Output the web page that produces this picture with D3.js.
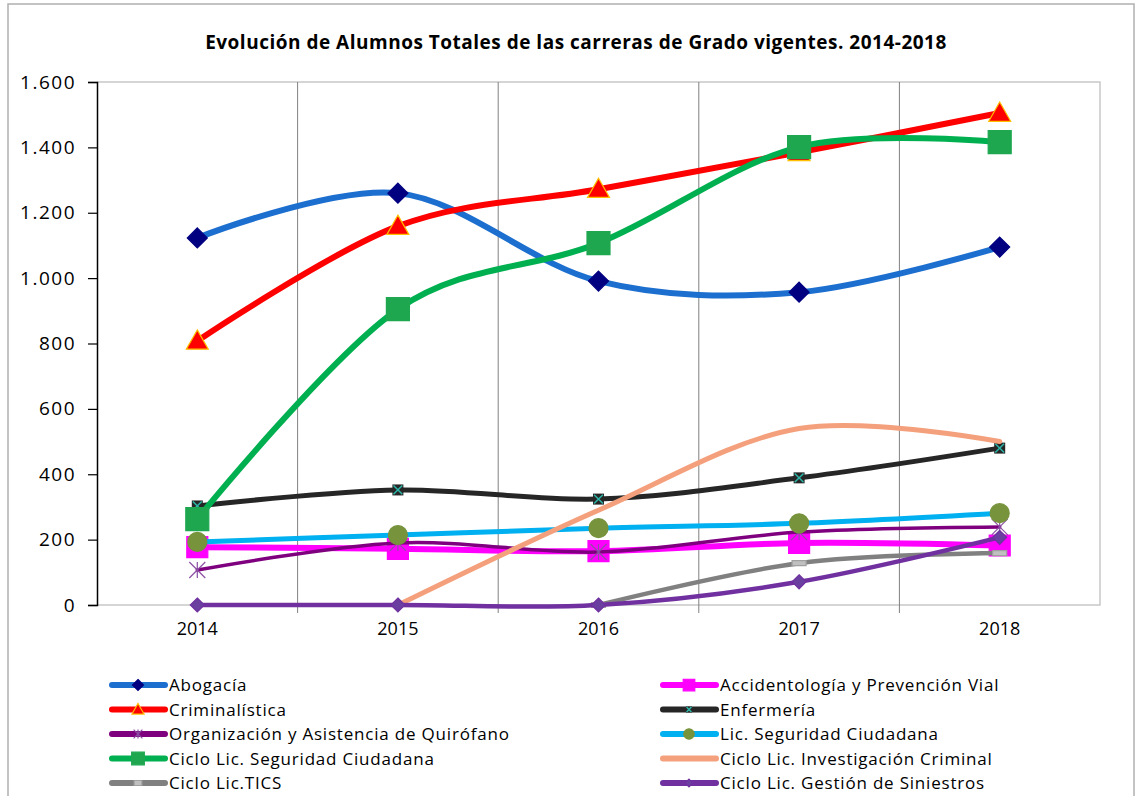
<!DOCTYPE html>
<html>
<head>
<meta charset="utf-8">
<script src="https://cdn.jsdelivr.net/npm/d3@7"></script>
<style>
  body { margin: 0; background: #fff; }
  text { font-family: "Open Sans", sans-serif; fill: #000; }
</style>
</head>
<body>
<script>
// data
var years = ["2014", "2015", "2016", "2017", "2018"];
var yTicks = [0, 200, 400, 600, 800, 1000, 1200, 1400, 1600];

var abogacia           = [1123, 1260, 991, 957, 1095];
var accidentologia     = [177, 172, 165, 190, 182];
var criminalistica     = [808, 1159, 1272, 1385, 1505];
var enfermeria         = [303, 352, 324, 389, 480];
var quirofano          = [107, 190, 162, 223, 239];
var licSeguridad       = [193, 214, 235, 250, 281];
var cicloSeguridad     = [263, 905, 1107, 1401, 1416];
var cicloInvestigacion = [null, 0, 290, 540, 500];
var cicloTics          = [null, null, 0, 128, 159];
var cicloGestion       = [0, 0, 0, 71, 207];

var names = ["Abogacía", "Accidentología y Prevención Vial", "Criminalística", "Enfermería",
  "Organización y Asistencia de Quirófano", "Lic. Seguridad Ciudadana", "Ciclo Lic. Seguridad Ciudadana",
  "Ciclo Lic. Investigación Criminal", "Ciclo Lic.TICS", "Ciclo Lic. Gestión de Siniestros"];
var values = [abogacia, accidentologia, criminalistica, enfermeria, quirofano,
  licSeguridad, cicloSeguridad, cicloInvestigacion, cicloTics, cicloGestion];

// look of each series (same order as names)
var styles = [
  {color: "#1c6fcf", width: 6, shape: "diamond", size: 20, fill: "#000080", stroke: "#000080"},
  {color: "#ff00ff", width: 6, shape: "square", size: 21, fill: "#ff00ff", stroke: "#ff00ff"},
  {color: "#ff0000", width: 6, shape: "triangle", size: 22, fill: "#ff0000", stroke: "#ffc000"},
  {color: "#262626", width: 5, shape: "xbox", size: 11, fill: "#262626", stroke: "#2cb5a8"},
  {color: "#7f007f", width: 3.5, shape: "asterisk", size: 16, fill: "none", stroke: "#8b4fa3"},
  {color: "#00b0f0", width: 5, shape: "circle", size: 19, fill: "#77933c", stroke: "#77933c"},
  {color: "#00b050", width: 6, shape: "square", size: 23, fill: "#1fa750", stroke: "#1fa750"},
  {color: "#f5a07c", width: 5, shape: null},
  {color: "#808080", width: 4.5, shape: "bar", size: 14, fill: "#c0c0c0", stroke: "#a0a0a0"},
  {color: "#7030a0", width: 4.5, shape: "diamond", size: 14, fill: "#6b3fa0", stroke: "#7030a0"}
];

var W = 1140, H = 796;
var plot = {left: 97, right: 1100, top: 82, bottom: 605};

var svg = d3.select("body").append("svg")
  .attr("width", W).attr("height", H);

// outer frame
svg.append("rect")
  .attr("x", 8).attr("y", 4).attr("width", 1126).attr("height", 800)
  .attr("fill", "none").attr("stroke", "#b0b0b0").attr("stroke-width", 1.5);

svg.append("text")
  .attr("x", 576).attr("y", 49)
  .attr("text-anchor", "middle")
  .attr("letter-spacing", "0.5px")
  .style("font-size", "19px").style("font-weight", "bold")
  .text("Evolución de Alumnos Totales de las carreras de Grado vigentes. 2014-2018");

var x = d3.scaleBand().domain(years).range([plot.left, plot.right]);
var y = d3.scaleLinear().domain([0, 1600]).range([plot.bottom, plot.top]);
var cx = function(d) { return x(d) + x.bandwidth() / 2; };

var es = d3.formatLocale({decimal: ",", thousands: ".", grouping: [3], currency: ["", "€"]});

// plot frame (top / right / bottom in light grey)
svg.append("path")
  .attr("d", "M" + plot.left + "," + plot.top + "H" + plot.right + "V" + plot.bottom + "H" + plot.left)
  .attr("fill", "none").attr("stroke", "#c8c8c8").attr("stroke-width", 1.5);

// vertical gridlines between categories
svg.append("g").selectAll("line")
  .data(years.slice(1))
  .enter().append("line")
    .attr("x1", function(d) { return x(d); })
    .attr("x2", function(d) { return x(d); })
    .attr("y1", plot.top).attr("y2", plot.bottom + 8)
    .attr("stroke", "#808080").attr("stroke-width", 1);

// y axis
var yAxis = svg.append("g")
  .attr("transform", "translate(" + plot.left + ",0)")
  .call(d3.axisLeft(y).tickValues(yTicks).tickSize(9).tickPadding(12)
    .tickFormat(es.format(",d")));
yAxis.select(".domain").attr("stroke", "#000").attr("stroke-width", 1.5);
yAxis.selectAll(".tick line").attr("stroke", "#000").attr("stroke-width", 1.2);
yAxis.selectAll("text")
  .style("font-size", "19px").style("font-family", "'Open Sans', sans-serif")
  .attr("letter-spacing", "1.5px").attr("fill", "#000");

// x labels
var xAxis = svg.append("g")
  .attr("transform", "translate(0," + plot.bottom + ")")
  .call(d3.axisBottom(x).tickSize(0).tickPadding(17));
xAxis.select(".domain").remove();
xAxis.selectAll("text")
  .style("font-size", "18px").style("font-family", "'Open Sans', sans-serif")
  .attr("fill", "#000");

function markerPath(shape, s) {
  var h = s / 2;
  switch (shape) {
    case "diamond": return "M0," + (-h) + "L" + h + ",0L0," + h + "L" + (-h) + ",0Z";
    case "square": return "M" + (-h) + "," + (-h) + "h" + s + "v" + s + "h" + (-s) + "Z";
    case "triangle": return "M0," + (-h) + "L" + h + "," + (h * 0.75) + "L" + (-h) + "," + (h * 0.75) + "Z";
    case "circle": return "M" + h + ",0A" + h + "," + h + " 0 1 1 " + (-h) + ",0A" + h + "," + h + " 0 1 1 " + h + ",0Z";
    case "xbox":
    case "x": return "M" + (-h) + "," + (-h) + "L" + h + "," + h + "M" + h + "," + (-h) + "L" + (-h) + "," + h;
    case "asterisk": return "M" + (-h) + "," + (-h) + "L" + h + "," + h + "M" + h + "," + (-h) + "L" + (-h) + "," + h +
      "M0," + (-h) + "L0," + h;
    case "bar": return "M" + (-h) + ",-2.5h" + s + "v5h" + (-s) + "Z";
  }
  return "";
}

function drawMarker(g, st, px, py, scale) {
  var s = st.size * scale;
  if (st.shape === "xbox") {
    g.append("rect").attr("x", px - s / 2).attr("y", py - s / 2).attr("width", s).attr("height", s)
      .attr("fill", st.fill);
    g.append("path").attr("transform", "translate(" + px + "," + py + ")")
      .attr("d", markerPath("x", s * 0.8)).attr("fill", "none")
      .attr("stroke", st.stroke).attr("stroke-width", 1.5);
  } else if (st.shape === "asterisk") {
    g.append("path").attr("transform", "translate(" + px + "," + py + ")")
      .attr("d", markerPath("asterisk", s)).attr("fill", "none")
      .attr("stroke", st.stroke).attr("stroke-width", 1.2);
  } else if (st.shape) {
    g.append("path").attr("transform", "translate(" + px + "," + py + ")")
      .attr("d", markerPath(st.shape, s)).attr("fill", st.fill)
      .attr("stroke", st.stroke).attr("stroke-width", 1.2);
  }
}

// smoothed lines (Excel style smoothing)
var line = d3.line()
  .defined(function(d) { return d.v != null; })
  .x(function(d) { return cx(d.year); })
  .y(function(d) { return y(d.v); })
  .curve(d3.curveCardinal.tension(0));

names.forEach(function(name, i) {
  var st = styles[i];
  var pts = years.map(function(yr, j) { return {year: yr, v: values[i][j]}; })
    .filter(function(d) { return d.v != null; });
  var g = svg.append("g").attr("class", "series");
  g.append("path")
    .datum(pts)
    .attr("d", line)
    .attr("fill", "none")
    .attr("stroke", st.color)
    .attr("stroke-width", st.width)
    .attr("stroke-linecap", "round")
    .attr("stroke-linejoin", "round");
  pts.forEach(function(d) { drawMarker(g, st, cx(d.year), y(d.v), 1); });
});

// legend, two columns
var legend = svg.append("g");
names.forEach(function(name, i) {
  var st = styles[i];
  var col = i % 2, row = Math.floor(i / 2);
  var lx = col === 0 ? 110 : 661;
  var ly = 685 + row * 24.5;
  var g = legend.append("g");
  g.append("line")
    .attr("x1", lx + 2).attr("x2", lx + 55)
    .attr("y1", ly).attr("y2", ly)
    .attr("stroke", st.color).attr("stroke-width", 6)
    .attr("stroke-linecap", "round");
  drawMarker(g, st, lx + 28, ly, 0.55);
  g.append("text")
    .attr("x", lx + 59).attr("y", ly + 6)
    .attr("letter-spacing", "0.8px")
    .style("font-size", "17px")
    .text(name);
});
</script>
</body>
</html>
